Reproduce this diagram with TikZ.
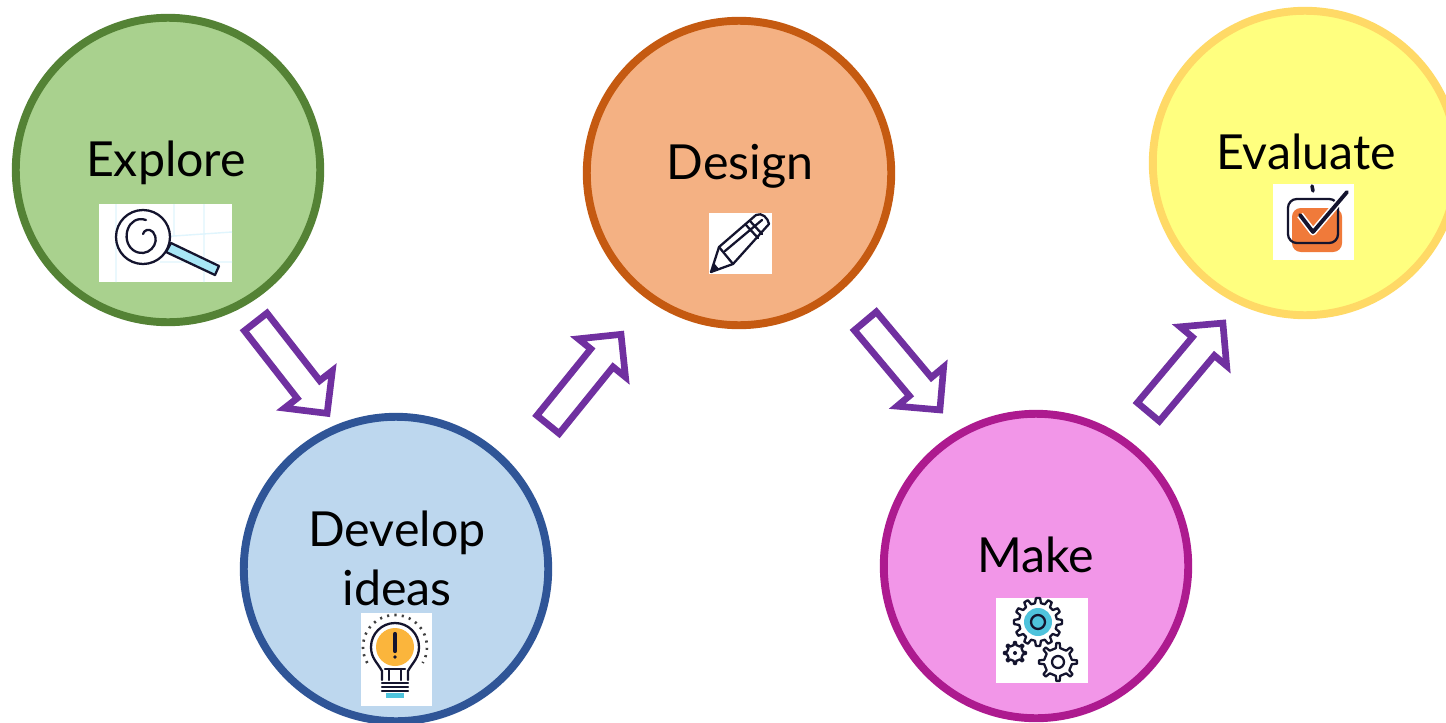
\documentclass[tikz,border=0pt]{standalone}
\usepackage{fontspec}
\setmainfont{Lato}
\usetikzlibrary{shapes.arrows}
\definecolor{arrowpurple}{HTML}{7030A0}
\definecolor{iconink}{HTML}{14142E}
\definecolor{exploreline}{HTML}{548235}
\definecolor{explorefill}{HTML}{A9D18E}
\definecolor{developline}{HTML}{2F5597}
\definecolor{developfill}{HTML}{BDD7EE}
\definecolor{designline}{HTML}{C55A11}
\definecolor{designfill}{HTML}{F4B183}
\definecolor{makeline}{HTML}{AD1A8F}
\definecolor{makefill}{HTML}{F296E8}
\definecolor{evalline}{HTML}{FFD966}
\definecolor{evalfill}{HTML}{FFFF7F}
\definecolor{iconcyan}{HTML}{4FC3DC}
\definecolor{iconpale}{HTML}{A8E6F5}
\definecolor{iconorange}{HTML}{F07A3A}
\definecolor{iconyellow}{HTML}{FBB53C}
\tikzset{
  stage/.style={circle,draw,line width=4.5pt,minimum size=6.09cm,inner sep=0pt},
  word/.style={align=center,inner sep=0pt,font=\fontsize{27.5}{33.5}\selectfont},
  iconbox/.style={fill=white,draw=none},
  blockarrow/.style={single arrow,draw=arrowpurple,fill=white,line width=3.8pt,inner xsep=0pt,inner ysep=.22cm,
    minimum height=2.32cm,single arrow head extend=.32cm,
    single arrow head indent=0cm,miter limit=10},
  ink/.style={draw=iconink,line width=1.3pt,line cap=round,line join=round}
}
\newcommand{\gearicon}[4]{% centre, inner radius, outer radius, teeth step
  \begin{scope}[shift={#1}]
    \draw[ink,fill=white] (-9:#2)
    \foreach \a in {0,#4,...,359} { -- (\a-9:#2) -- (\a-5:#3) -- (\a+5:#3) -- (\a+9:#2) } -- cycle;
  \end{scope}}
\begin{document}
\begin{tikzpicture}[x=0.02cm,y=-0.02cm]
  \useasboundingbox (0,0) rectangle (1446,723);
  % circles
  \node[stage,draw=exploreline,fill=explorefill] (E) at (168,170) {};
  \node[stage,draw=developline,fill=developfill] (D) at (396,569) {};
  \node[stage,draw=designline,fill=designfill] (G) at (739,173) {};
  \node[stage,draw=makeline,fill=makefill] (M) at (1036,566) {};
  \node[stage,draw=evalline,fill=evalfill] (V) at (1305,163) {};
  % arrows
  \node[blockarrow,rotate=-52] (a1) at (287,362) {};
  \node[blockarrow,rotate=51] (a2) at (580,385) {};
  \node[blockarrow,rotate=-50] (a3) at (898,360) {};
  \node[blockarrow,rotate=50] (a4) at (1181,373) {};
  % words
  \node[word] (Et) at (166,163) {Explore};
  \node[word] (Dt) at (397,558) {Develop\\ideas};
  \node[word] (Gt) at (740,166) {Design};
  \node[word] (Mt) at (1036,555) {Make};
  \node[word] (Vt) at (1306,152) {Evaluate};
  % magnifier
  \fill[iconbox] (99,204) rectangle (232,282);
  \draw[cyan!12,line width=.8pt] (116,204) -- (116,282) (174,204) -- (174,236) (204,204) -- (204,282)
    (145,238) -- (232,232) (160,262) -- (232,262);
  \draw[ink,fill=iconpale] (171,243) -- (219,266) -- (215,275) -- (166,252) -- cycle;
  \draw[ink,fill=white] (143,237) circle (27);
  \draw[ink] (146,220) .. controls (128,214) and (120,240) .. (133,250)
    .. controls (147,260) and (162,243) .. (153,232) .. controls (149,228) and (144,230) .. (143,234);
  % light bulb
  \fill[iconbox] (361,613) rectangle (432,706);
  \begin{scope}[shift={(395,647)}]
    \draw[black!75,line width=1.5pt,dash pattern=on 1.2pt off 3pt] (150:32) arc (150:390:32);
    \fill[iconyellow] (0,0) circle (19);
    \draw[ink] (-13,33) -- (-13,24) .. controls (-18,15) and (-24,11) .. (-24,0)
      arc (180:360:24) .. controls (24,11) and (18,15) .. (13,24) -- (13,33);
    \draw[ink] (-6,33) -- (-6,22) (6,33) -- (6,22) (-10,22) -- (10,22);
    \draw[ink,line width=2.4pt] (0,-13) -- (0,4);
    \fill[iconink] (0,10) circle (1.8);
    \draw[ink] (-13,36) -- (13,36) (-13,40) -- (13,40) (-13,44) -- (13,44);
    \fill[iconcyan] (-9,46) rectangle (9,51);
  \end{scope}
  % pencil
  \fill[iconbox] (709,213) rectangle (772,274);
  \draw[ink,fill=white] (711,272) -- (719,247) -- (756,215) .. controls (762,212) and (768,218) .. (769,224)
    -- (733,264) -- cycle;
  \draw[ink] (719,247) -- (733,264) (725,251) -- (762,220)
    (750,221) -- (762,234) (746,225) -- (758,238);
  \fill[iconink] (711,272) -- (714,263) -- (719,269) -- cycle;
  % gears
  \fill[iconbox] (996,598) rectangle (1088,683);
  \gearicon{(1038,622)}{19}{24}{30}
  \fill[iconcyan] (1038,622) circle (14);
  \draw[ink] (1038,622) circle (7);
  \gearicon{(1015,653)}{8}{11}{45}
  \fill[iconink] (1015,653) circle (2);
  \gearicon{(1058,662)}{14}{19}{45}
  \draw[ink] (1058,662) circle (6);
  % check box
  \fill[iconbox] (1273,184) rectangle (1354,260);
  \draw[ink,line width=2pt] (1312,186) -- (1313,191);
  \fill[iconorange,rounded corners=5] (1292,208) rectangle (1342,252);
  \draw[ink,rounded corners=5] (1288,199) rectangle (1338,243);
  \draw[white,line width=4pt,line join=round] (1300,215) -- (1313,232) -- (1347,192);
  \draw[ink,line width=2.2pt] (1300,215) -- (1313,232) -- (1347,192);
\end{tikzpicture}
\end{document}
